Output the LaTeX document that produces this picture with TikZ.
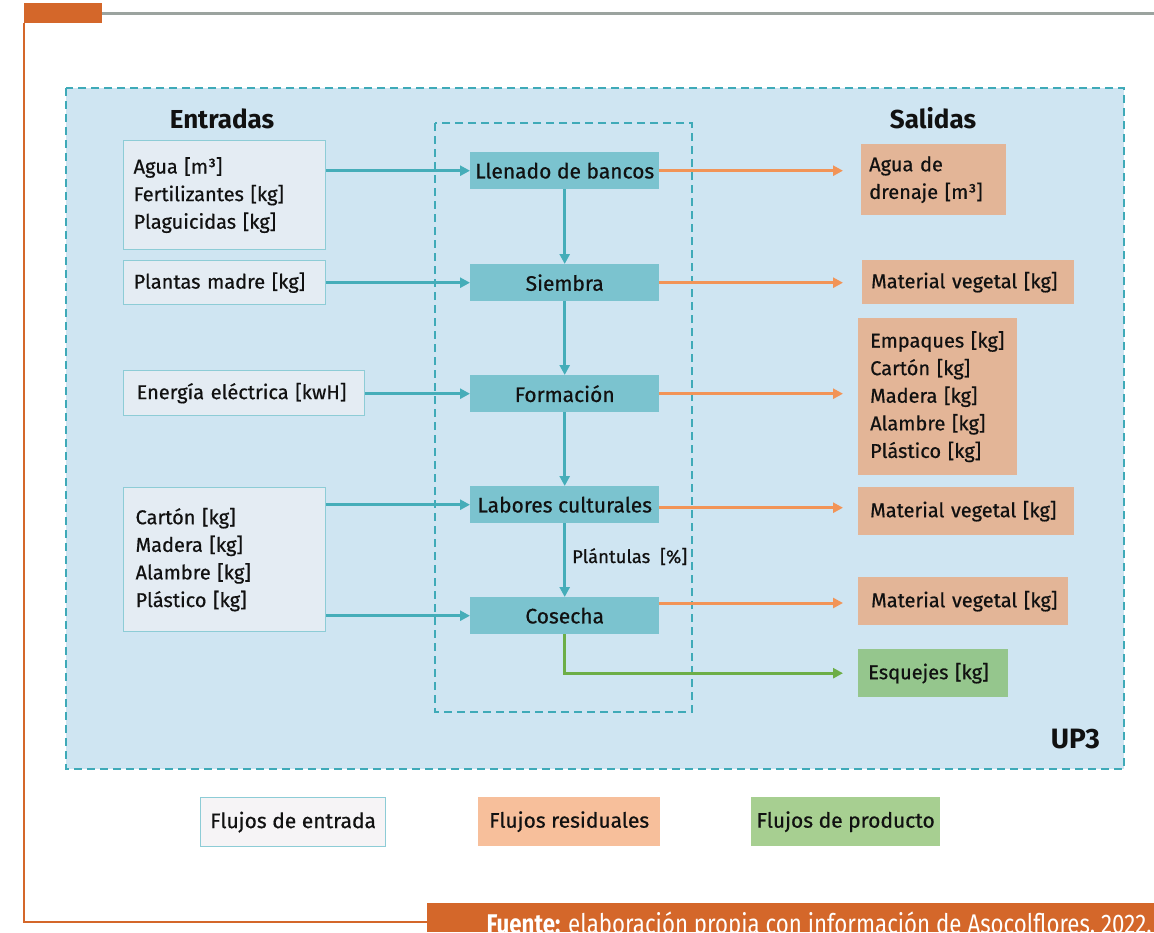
\documentclass[tikz,border=0pt]{standalone}
\usepackage{fontspec}
\setmainfont{Fira Sans}[UprightFeatures={FakeBold=0.6}]
\newfontfamily\footfont{Fira Sans}[FakeStretch=0.825]
\usetikzlibrary{arrows.meta}

\definecolor{brand}{HTML}{D4672A}
\definecolor{rulegray}{HTML}{9BA39F}
\definecolor{panel}{HTML}{CFE5F2}
\definecolor{frameteal}{HTML}{3FAAB8}
\definecolor{procfill}{HTML}{7BC3CF}
\definecolor{infill}{HTML}{E4ECF3}
\definecolor{inborder}{HTML}{8DCCD6}
\definecolor{flowteal}{HTML}{45ADB9}
\definecolor{floworange}{HTML}{F29457}
\definecolor{outfill}{HTML}{E3B597}
\definecolor{prodfill}{HTML}{95C68D}
\definecolor{flowgreen}{HTML}{6DAE47}
\definecolor{legin}{HTML}{F6F4F6}
\definecolor{legres}{HTML}{F7BF9B}
\definecolor{legprod}{HTML}{A7CF91}
\definecolor{ink}{HTML}{111111}

\tikzset{
  txt/.style={font=\fontsize{20}{27.6}\selectfont, text=ink},
  dashframe/.style={draw=frameteal, line width=2.4pt, dash pattern=on 8pt off 5pt},
  title/.style={font=\bfseries\fontsize{26}{30}\selectfont, text=ink, inner sep=0pt},
  inbox/.style={txt, draw=inborder, line width=1.2pt, fill=infill, rectangle,
    anchor=north west, align=left, inner ysep=0pt},
  procbox/.style={font=\fontsize{21}{26}\selectfont, text=ink, fill=procfill,
    anchor=north west, minimum width=189pt, minimum height=37pt, inner sep=0pt},
  outbox/.style={txt, fill=outfill, rectangle, anchor=north west, align=left, inner ysep=0pt},
  prodbox/.style={outbox, fill=prodfill},
  legbox/.style={font=\fontsize{21}{26}\selectfont, text=ink, anchor=north west,
    minimum height=49pt, inner sep=0pt},
  tip/.style={-{Triangle[length=10pt,width=10pt]}},
  inflow/.style={tip, draw=flowteal, line width=3pt},
  resflow/.style={tip, draw=floworange, line width=3pt},
  prodflow/.style={tip, draw=flowgreen, line width=3pt},
}

\begin{document}
\begin{tikzpicture}[x=1pt,y=-1pt]
\useasboundingbox (0,0) rectangle (1154,932);
\clip (0,0) rectangle (1154,932);

% page frame: header tab, top rule, side rule and source band
\fill[brand] (24,3) rectangle (102,23);
\draw[rulegray, line width=3pt] (102,13) -- (1154,13);
\draw[brand, line width=2.2pt] (24,23) -- (24,922) -- (428,922);
\fill[brand] (427,903) rectangle (1154,932);
\node[anchor=base east, text=white, inner sep=0pt,
      font=\footfont\fontsize{27}{30}\selectfont] (src) at (1152,933)
  {\textbf{Fuente:} elaboración propia con información de Asocolflores, 2022.};

% system boundary and process column
\draw[dashframe, fill=panel] (66,88) rectangle (1124,769);
\draw[dashframe] (435,123) rectangle (692,712);

\node[title, anchor=base] (ent) at (222,128) {Entradas};
\node[title, anchor=base] (sal) at (933,128) {Salidas};
\node[title, anchor=base east, font=\bfseries\fontsize{28}{30}\selectfont] (up) at (1100,748) {UP3};

% inputs
\node[inbox, inner xsep=10pt, text width=182pt, minimum height=109pt] (in1) at (123,140)
  {Agua [m³]\\Fertilizantes [kg]\\Plaguicidas [kg]};
\node[inbox, inner xsep=10pt, text width=182pt, minimum height=44pt] (in2) at (123,260)
  {\mbox{Plantas madre [kg]}};
\node[inbox, inner xsep=13pt, text width=215pt, minimum height=45pt] (in3) at (123,370)
  {\mbox{Energía eléctrica [kwH]}};
\node[inbox, inner xsep=12pt, text width=178pt, minimum height=144pt] (in4) at (123,487)
  {Cartón [kg]\\Madera [kg]\\Alambre [kg]\\Plástico [kg]};

% process steps
\node[procbox] (llen) at (470,152) {Llenado de bancos};
\node[procbox] (siem) at (470,264) {Siembra};
\node[procbox] (form) at (470,375) {Formación};
\node[procbox] (lab)  at (470,486) {Labores culturales};
\node[procbox] (cos)  at (470,597) {Cosecha};

% outputs
\node[outbox, inner xsep=8pt, text width=129pt, minimum height=71pt] (o1) at (861,144)
  {Agua de\\drenaje [m³]};
\node[outbox, inner xsep=9pt, text width=194pt, minimum height=44pt] (o2) at (862,260)
  {\mbox{Material vegetal [kg]}};
\node[outbox, inner xsep=12pt, text width=135pt, minimum height=157pt] (o3) at (858,318)
  {Empaques [kg]\\Cartón [kg]\\Madera [kg]\\Alambre [kg]\\Plástico [kg]};
\node[outbox, inner xsep=12pt, text width=192pt, minimum height=48pt] (o4) at (858,487)
  {\mbox{Material vegetal [kg]}};
\node[outbox, inner xsep=13pt, text width=184pt, minimum height=48pt] (o5) at (858,577)
  {\mbox{Material vegetal [kg]}};
\node[prodbox, inner xsep=10pt, text width=130pt, minimum height=48pt] (o6) at (858,649)
  {\mbox{Esquejes [kg]}};

% arrow tips on the output side, and the off-centre exits
\coordinate (tipx) at (843,0);
\coordinate (labout) at ([yshift=-3pt]lab.east);
\coordinate (cosout) at ([yshift=-6pt]cos.north east);

% input flows
\draw[inflow] (in1.east |- llen.west) -- (llen.west);
\draw[inflow] (in2.east |- siem.west) -- (siem.west);
\draw[inflow] (in3.east |- form.west) -- (form.west);
\draw[inflow] (in4.east |- lab.west) -- (lab.west);
\draw[inflow] (in4.east |- cos.west) -- (cos.west);

% main sequence
\draw[inflow] (llen) -- (siem);
\draw[inflow] (siem) -- (form);
\draw[inflow] (form) -- (lab);
\draw[inflow] (lab) -- (cos)
  node[pos=0.45, anchor=west, xshift=6pt, txt, font=\fontsize{18.5}{22}\selectfont, inner sep=0pt] (plt)
  {Plántulas~~[\%]};

% residual flows
\draw[resflow] (llen.east) -- (tipx |- llen.east);
\draw[resflow] (siem.east) -- (tipx |- siem.east);
\draw[resflow] (form.east) -- (tipx |- form.east);
\draw[resflow] (labout) -- (tipx |- labout);
\draw[resflow] (cosout) -- (tipx |- cosout);

% product flow
\draw[prodflow] (cos.south) |- (tipx |- o6.west);

% legend
\node[legbox, draw=inborder, line width=1.2pt, fill=legin, minimum width=185pt] (lg1) at (200,797) {Flujos de entrada};
\node[legbox, fill=legres, minimum width=182pt] (lg2) at (478,797) {Flujos residuales};
\node[legbox, fill=legprod, minimum width=189pt] (lg3) at (751,797) {Flujos de producto};
\end{tikzpicture}
\end{document}
